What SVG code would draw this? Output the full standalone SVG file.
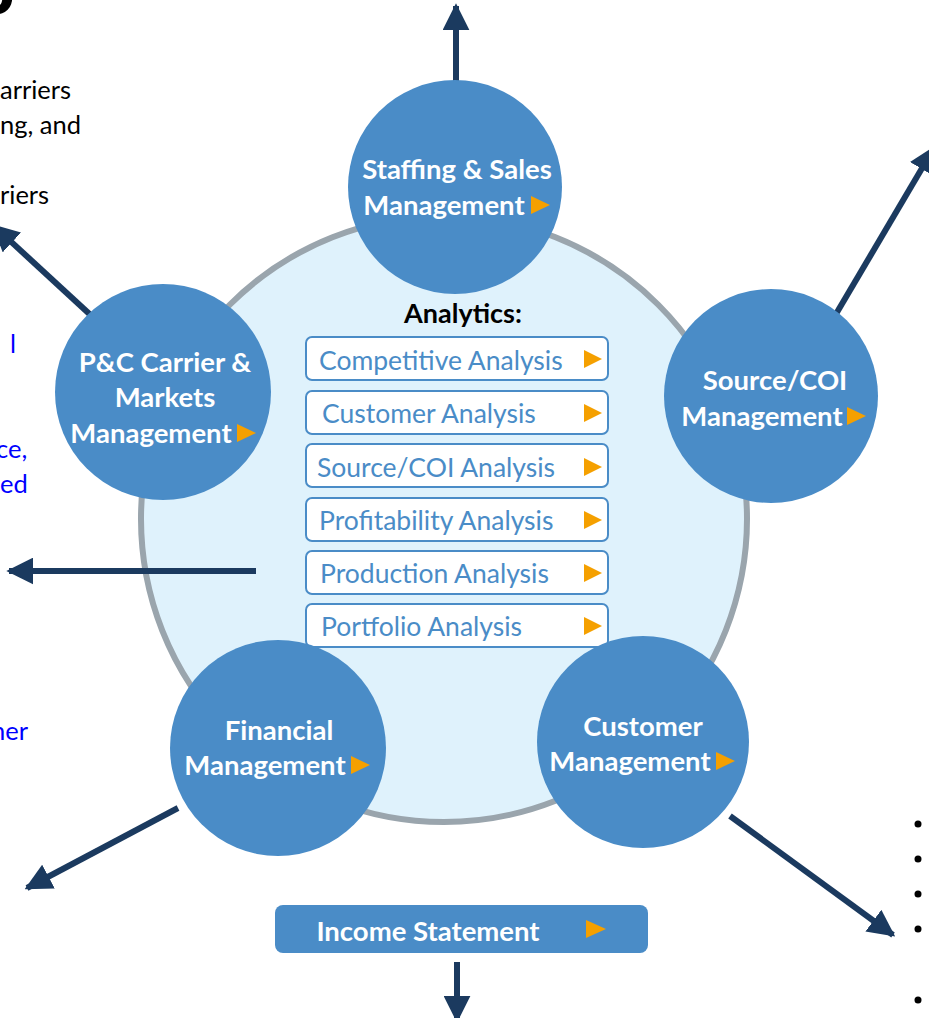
<svg xmlns="http://www.w3.org/2000/svg" width="929" height="1018" viewBox="0 0 929 1018">
<defs>
<style>
.node{fill:#4a8cc7;}
.lbl{font-family:Lato,"Open Sans","Liberation Sans",sans-serif;font-weight:bold;font-size:27.5px;fill:#ffffff;text-anchor:middle;}
.box{fill:#ffffff;stroke:#4a8cc7;stroke-width:2;}
.btxt{font-family:Lato,"Open Sans","Liberation Sans",sans-serif;font-size:26.5px;fill:#4a8cc7;}
.tri{fill:#f5a000;}
.conn{stroke:#1b3a5f;stroke-width:6;fill:none;}
.head{fill:#1b3a5f;}
.side{font-family:Lato,"Open Sans","Liberation Sans",sans-serif;font-size:25.5px;fill:#000000;}
.blue{fill:#0000ff;}
</style>
<marker id="ah" viewBox="0 0 10 10" refX="9" refY="5" markerWidth="4.5" markerHeight="4.5" orient="auto" markerUnits="strokeWidth">
<path d="M0,0 L10,5 L0,10 z" class="head"/>
</marker>
</defs>
<rect width="929" height="1018" fill="#ffffff"/>

<g id="side-text">
<text x="-25" y="14" font-family="'Open Sans',Lato,sans-serif" font-weight="bold" font-size="65" fill="#000">o</text>
<text class="side" x="0" y="99">arriers</text>
<text class="side" x="0" y="134">ng, and</text>
<text class="side" x="0" y="204">riers</text>
<text class="side blue" x="10" y="353">l</text>
<text class="side blue" x="-4" y="458">ce,</text>
<text class="side blue" x="0" y="493">ed</text>
<text class="side blue" x="-9" y="740">ner</text>
<circle cx="918" cy="824" r="3.5" fill="#000"/>
<circle cx="918" cy="859" r="3.5" fill="#000"/>
<circle cx="918" cy="894" r="3.5" fill="#000"/>
<circle cx="918" cy="929" r="3.5" fill="#000"/>
<circle cx="918" cy="1000" r="3.5" fill="#000"/>
</g>

<g id="hub">
<circle cx="444" cy="519" r="303" fill="#dff2fc" stroke="#9aa5ad" stroke-width="6"/>
</g>

<g id="connectors">
<line class="conn" x1="456" y1="82" x2="456" y2="6" marker-end="url(#ah)"/>
<line class="conn" x1="836" y1="314" x2="934" y2="148" marker-end="url(#ah)"/>
<line class="conn" x1="96" y1="320" x2="-6" y2="226" marker-end="url(#ah)"/>
<line class="conn" x1="256" y1="571" x2="9" y2="571" marker-end="url(#ah)"/>
<line class="conn" x1="178" y1="808" x2="27" y2="888" marker-end="url(#ah)"/>
<line class="conn" x1="730" y1="816" x2="893" y2="935" marker-end="url(#ah)"/>
<line class="conn" x1="457" y1="962" x2="457" y2="1020" marker-end="url(#ah)"/>
</g>

<g id="analytics">
<text x="463" y="323" font-family="Lato,'Liberation Sans',sans-serif" font-weight="bold" font-size="27" fill="#000" text-anchor="middle">Analytics:</text>
<g id="a1"><rect class="box" x="306" y="337" width="302" height="43" rx="6"/><text class="btxt" x="319" y="370">Competitive Analysis</text><polygon class="tri" points="584,350 602,359 584,368"/></g>
<g id="a2"><rect class="box" x="306" y="391" width="302" height="43" rx="6"/><text class="btxt" x="322" y="423">Customer Analysis</text><polygon class="tri" points="584,404 602,413 584,422"/></g>
<g id="a3"><rect class="box" x="306" y="444" width="302" height="43" rx="6"/><text class="btxt" x="317" y="477">Source/COI Analysis</text><polygon class="tri" points="584,458 602,467 584,476"/></g>
<g id="a4"><rect class="box" x="306" y="498" width="302" height="43" rx="6"/><text class="btxt" x="319" y="530">Profitability Analysis</text><polygon class="tri" points="584,511 602,520 584,529"/></g>
<g id="a5"><rect class="box" x="306" y="551" width="302" height="43" rx="6"/><text class="btxt" x="320" y="583">Production Analysis</text><polygon class="tri" points="584,564 602,573 584,582"/></g>
<g id="a6"><rect class="box" x="306" y="604" width="302" height="43" rx="6"/><text class="btxt" x="321" y="636">Portfolio Analysis</text><polygon class="tri" points="584,617 602,626 584,635"/></g>
</g>

<g id="staffing">
<circle class="node" cx="455" cy="187" r="107"/>
<text class="lbl" x="457" y="179">Staffing &amp; Sales</text>
<text class="lbl" x="444" y="215">Management</text>
<polygon class="tri" points="531,196 550,205 531,214"/>
</g>
<g id="source-coi">
<circle class="node" cx="771" cy="396" r="107"/>
<text class="lbl" x="775" y="390">Source/COI</text>
<text class="lbl" x="762" y="426">Management</text>
<polygon class="tri" points="847,407 866,416 847,425"/>
</g>
<g id="customer">
<circle class="node" cx="643" cy="742" r="106"/>
<text class="lbl" x="643" y="736">Customer</text>
<text class="lbl" x="630" y="771">Management</text>
<polygon class="tri" points="716,752 735,761 716,770"/>
</g>
<g id="financial">
<circle class="node" cx="278" cy="748" r="108"/>
<text class="lbl" x="279" y="740">Financial</text>
<text class="lbl" x="265" y="775">Management</text>
<polygon class="tri" points="351,756 370,765 351,774"/>
</g>
<g id="pc-carrier">
<circle class="node" cx="163" cy="392" r="108"/>
<text class="lbl" x="165" y="372">P&amp;C Carrier &amp;</text>
<text class="lbl" x="165" y="407">Markets</text>
<text class="lbl" x="151" y="443">Management</text>
<polygon class="tri" points="237,424 256,433 237,442"/>
</g>

<g id="income">
<rect class="node" x="275" y="905" width="373" height="48" rx="8"/>
<text x="428" y="941" class="lbl">Income Statement</text>
<polygon class="tri" points="586,920 606,929 586,938"/>
</g>
</svg>
